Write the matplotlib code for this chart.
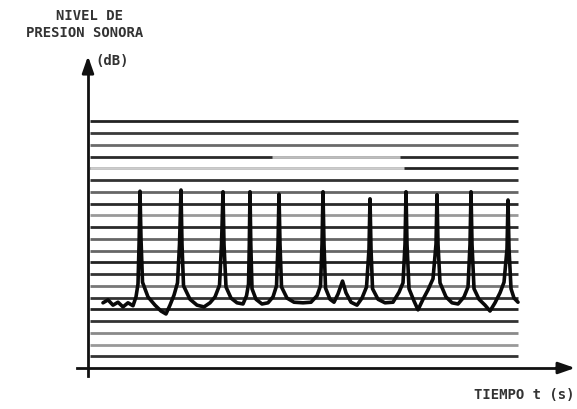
import matplotlib
matplotlib.use("Agg")
import matplotlib.pyplot as plt

t_s = [0.375, 0.5, 0.625, 0.75, 0.875, 1.0, 1.125, 1.2,
       1.25, 1.28, 1.3, 1.325, 1.363,
       1.5, 1.675, 1.825, 1.95, 2.05, 2.15, 2.238,
       2.288, 2.325, 2.35, 2.388,
       2.55, 2.725, 2.9, 3.05, 3.175, 3.288,
       3.338, 3.375, 3.4, 3.45,
       3.575, 3.725, 3.875, 3.963, 4.013,
       4.033, 4.05, 4.07, 4.1,
       4.2, 4.35, 4.5, 4.625, 4.713,
       4.75, 4.775, 4.8, 4.838,
       4.975, 5.15, 5.375, 5.575, 5.725, 5.813,
       5.85, 5.875, 5.9, 5.938,
       6.05, 6.15, 6.25, 6.363, 6.45, 6.575, 6.725, 6.85, 6.963,
       7.025, 7.05, 7.075, 7.113,
       7.25, 7.425, 7.625, 7.775, 7.875,
       7.925, 7.95, 7.975, 8.025,
       8.15, 8.25, 8.375, 8.5, 8.625,
       8.7, 8.725, 8.75, 8.8,
       8.95, 9.1, 9.25, 9.4, 9.5,
       9.55, 9.575, 9.6, 9.65,
       9.775, 9.925, 10.05, 10.175, 10.3, 10.4,
       10.475, 10.5, 10.525, 10.575,
       10.65, 10.75]
level_db = [11.1, 11.6, 10.7, 11.2, 10.4, 11.1, 10.6, 12.1,
            14.3, 22.0, 30.1, 22.0, 14.6,
            12.1, 10.7, 9.7, 9.2, 10.7, 12.4, 14.5,
            21.1, 30.3, 21.1, 14.0,
            11.7, 10.7, 10.4, 11.1, 12.1, 14.1,
            21.1, 30.0, 21.1, 13.8,
            11.9, 11.1, 10.9, 12.3, 14.3,
            21.1, 30.0, 21.1, 13.5,
            11.7, 10.9, 11.1, 12.1, 14.0,
            21.1, 29.6, 21.1, 13.8,
            11.9, 11.2, 11.1, 11.2, 12.3, 14.0,
            21.1, 30.0, 21.1, 13.6,
            11.7, 11.2, 12.6, 14.8, 12.8, 11.2, 10.7, 11.9, 13.8,
            20.3, 28.8, 20.3, 13.5,
            11.7, 11.1, 11.2, 12.9, 14.5,
            21.1, 30.0, 21.1, 13.5,
            11.4, 9.9, 11.7, 13.3, 15.2,
            21.1, 29.5, 21.1, 14.5,
            12.1, 11.1, 10.9, 12.1, 13.8,
            21.1, 30.0, 21.1, 13.5,
            11.7, 10.7, 9.7, 11.1, 12.8, 14.6,
            20.3, 28.6, 20.3, 13.5,
            11.9, 11.2]

# Chart paper rulings (dB) and how dark each one came out in the scan
grid_db = [2, 4, 6, 8, 10, 12, 14, 16, 18, 20, 22,
           24, 26, 28, 30, 32, 34, 36, 38, 40, 42]
grid_shade = ["#333333", "#999999", "#8a8a8a", "#333333", "#222222", "#333333",
              "#777777", "#333333", "#222222", "#666666", "#666666", "#2a2a2a",
              "#999999", "#2a2a2a", "#666666", "#333333", "#222222", "#2a2a2a",
              "#6a6a6a", "#3a3a3a", "#222222"]
# faded stretches of some rulings: (level, t from, t to, colour)
faded = [(34, 0.05, 7.9, "#cccccc"), (36, 4.6, 7.8, "#bdbdbd")]

ylabel_lines = ["NIVEL DE", "PRESION SONORA", "(dB)"]
xlabel = "TIEMPO t (s)"

fig = plt.figure(figsize=(5.77, 4.10), dpi=100)
ax = fig.add_axes([0.1317, 0.0785, 0.8666, 0.788])
ax.set_xlim(-0.3, 12.2)
ax.set_ylim(-1.5, 53.5)
ax.axis("off")

# paper rulings
ax.hlines(grid_db, 0.05, 10.75, colors=grid_shade, linewidth=2.0, zorder=1)
for lev, t0, t1, col in faded:
    ax.hlines(lev, t0, t1, colors=col, linewidth=2.1, zorder=1.5)

# axes with arrow heads
ax.plot([-0.275, 11.8], [0, 0], color="#111111", lw=2.0, zorder=2, clip_on=False)
ax.plot([0, 0], [-1.36, 51], color="#111111", lw=2.0, zorder=2, clip_on=False)
ax.annotate("", xy=(12.175, 0), xytext=(11.7, 0),
            arrowprops=dict(arrowstyle="-|>,head_length=1.0,head_width=0.35",
                            color="#111111", lw=2.0, shrinkA=0, shrinkB=0),
            annotation_clip=False)
ax.annotate("", xy=(0, 53.1), xytext=(0, 50.5),
            arrowprops=dict(arrowstyle="-|>,head_length=1.0,head_width=0.35",
                            color="#111111", lw=2.0, shrinkA=0, shrinkB=0),
            annotation_clip=False)

# the recorded level
ax.plot(t_s, level_db, color="#0a0a0a", lw=2.6, solid_joinstyle="round",
        solid_capstyle="round", zorder=3)

font = dict(family="DejaVu Sans Mono", weight="bold", color="#333333", fontsize=10)
fig.text(90 / 577, 1 - 16 / 410, ylabel_lines[0], ha="center", va="center", **font)
fig.text(85 / 577, 1 - 33 / 410, ylabel_lines[1], ha="center", va="center", **font)
fig.text(95 / 577, 1 - 61 / 410, ylabel_lines[2], ha="left", va="center", **font)
fig.text(575 / 577, 1 - 395 / 410, xlabel, ha="right", va="center", **font)

fig.savefig("out.png", dpi=100)
